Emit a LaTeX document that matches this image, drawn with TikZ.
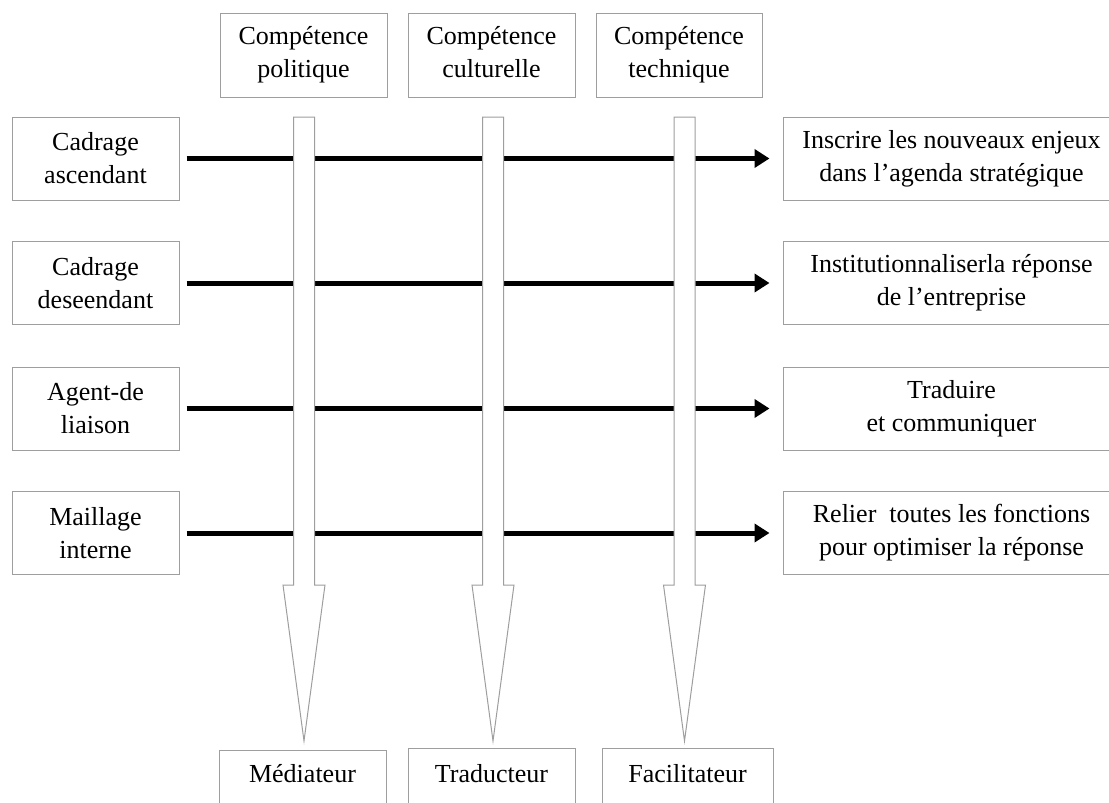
\documentclass[tikz,border=0pt]{standalone}
\usepackage{fontspec}
\setmainfont{Liberation Serif}
\usetikzlibrary{calc,arrows.meta,positioning}

\begin{document}
\begin{tikzpicture}[x=1pt,y=-1pt]

\tikzset{
boite/.style={draw=black!38,line width=1pt,rectangle,inner sep=0pt,align=center,font=\fontsize{26}{33}\selectfont},
gauche/.style={boite,minimum width=167pt,minimum height=83pt},
droite/.style={boite,minimum width=337pt,minimum height=83pt},
haut/.style={boite,minimum height=84pt},
bas/.style={boite,anchor=north,text height=34pt,text depth=30pt},
lien/.style={-{Triangle[length=15pt,width=18pt]},line width=5pt,shorten <=7pt,shorten >=13pt},
canal/.style={draw=black!38,fill=white,line width=1pt}
}

\clip (0,0) rectangle (1109,803);

% Nodes
\node[haut,minimum width=167pt] (compPol) at (303.5,55) {Compétence\\politique};
\node[haut,minimum width=167pt] (compCul) at (491.5,55) {Compétence\\culturelle\vphantom{p}};
\node[haut,minimum width=166pt] (compTec) at (679,55) {Compétence\\technique};

\node[gauche] (cadAsc) at (95.5,158.5) {Cadrage\\ascendant};
\node[gauche] (cadDesc) at (95.5,283) {Cadrage\\deseendant};
\node[gauche] (agent) at (95.5,408.5) {Agent-de\\liaison};
\node[gauche] (maillage) at (95.5,533) {Maillage\\interne};

\node[droite] (enjeux) at (951.5,158.5) {Inscrire les nouveaux enjeux\\dans l’agenda stratégique};
\node[droite] (instit) at (951.5,283) {Institutionnaliserla réponse\\de l’entreprise};
\node[droite] (traduire) at (951.5,408.5) {Traduire\\et communiquer};
\node[droite] (relier) at (951.5,533) {Relier\ \ toutes les fonctions\\pour optimiser la réponse};

\node[bas,minimum width=167pt,text height=32pt] (mediat) at (302.5,750) {Médiateur};
\node[bas,minimum width=167pt] (traduct) at (491.5,748) {Traducteur};
\node[bas,minimum width=171pt] (facilit) at (687.5,748) {Facilitateur};

\coordinate (canal1) at (304,117);
\coordinate (canal2) at (493,117);
\coordinate (canal3) at (684.5,117);


% Arrows
\draw[lien] (cadAsc) -- (enjeux);
\draw[lien] (cadDesc) -- (instit);
\draw[lien] (agent) -- (traduire);
\draw[lien] (maillage) -- (relier);


% Competence channels
\draw[canal] ($(canal1)+(-10.5,0)$) -- ++(21,0) -- ++(0,468) -- ++(10.5,0) -- ++(-21,156) -- ++(-21,-156) -- ++(10.5,0) -- cycle;
\draw[canal] ($(canal2)+(-10.5,0)$) -- ++(21,0) -- ++(0,468) -- ++(10.5,0) -- ++(-21,156) -- ++(-21,-156) -- ++(10.5,0) -- cycle;
\draw[canal] ($(canal3)+(-10.5,0)$) -- ++(21,0) -- ++(0,468) -- ++(10.5,0) -- ++(-21,156) -- ++(-21,-156) -- ++(10.5,0) -- cycle;

\end{tikzpicture}
\end{document}
